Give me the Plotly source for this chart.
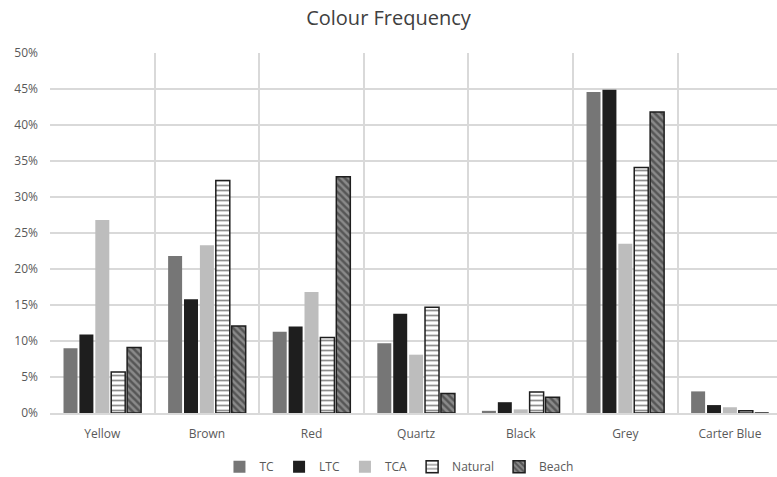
import plotly.graph_objects as go

categories = ["Yellow", "Brown", "Red", "Quartz", "Black", "Grey", "Carter Blue"]
tc = [9.0, 21.8, 11.3, 9.7, 0.3, 44.6, 3.0]
ltc = [10.9, 15.8, 12.0, 13.8, 1.5, 44.9, 1.1]
tca = [26.8, 23.3, 16.8, 8.1, 0.5, 23.5, 0.8]
natural = [5.7, 32.3, 10.5, 14.7, 2.9, 34.1, 0.3]
beach = [9.1, 12.1, 32.8, 2.7, 2.2, 41.8, 0.0]
yticks = [0, 5, 10, 15, 20, 25, 30, 35, 40, 45, 50]
ytick_labels = [f"{v}%" for v in yticks]

font = "Open Sans"
fig = go.Figure()
fig.add_bar(name="TC", x=categories, y=tc, marker=dict(color="#767676", line=dict(width=0)))
fig.add_bar(name="LTC", x=categories, y=ltc, marker=dict(color="#1e1e1e", line=dict(width=0)))
fig.add_bar(name="TCA", x=categories, y=tca, marker=dict(color="#bdbdbd", line=dict(width=0)))
fig.add_bar(name="Natural", x=categories, y=natural,
            marker=dict(color="white", line=dict(color="#1e1e1e", width=1.5),
                        pattern=dict(shape="-", fgcolor="#1e1e1e", bgcolor="white", size=5, solidity=0.35)))
fig.add_bar(name="Beach", x=categories, y=beach,
            marker=dict(color="#4a4a4a", line=dict(color="#1e1e1e", width=1.5),
                        pattern=dict(shape="\\", fgcolor="#222222", bgcolor="#8a8a8a", size=5, solidity=0.5)))

fig.update_layout(
    width=777, height=477,
    margin=dict(l=50, r=0, t=52.5, b=63.5, autoexpand=False),
    paper_bgcolor="white", plot_bgcolor="white",
    title=dict(text="Colour Frequency", x=0.5, xanchor="center", y=0.962, yanchor="middle",
               font=dict(family=font, size=20, color="#404040")),
    barmode="group", bargap=0.24, bargroupgap=0.12,
    font=dict(family=font, size=12, color="#595959"),
    legend=dict(orientation="h", x=0.48, xanchor="center", y=-0.109, yanchor="top",
                font=dict(family=font, size=12, color="#595959"),
                itemwidth=30, tracegroupgap=0, traceorder="normal"),
    xaxis=dict(type="category", range=[-0.5, 6.45], tickson="boundaries", showgrid=True,
               gridcolor="#d9d9d9", gridwidth=1.5, automargin=False, ticklabelstandoff=9,
               ticks="", showline=True, linecolor="#d9d9d9", linewidth=1.5,
               tickfont=dict(family=font, size=12, color="#595959")),
    yaxis=dict(range=[0, 50], tickvals=yticks, ticktext=ytick_labels, showgrid=True, automargin=False,
               gridcolor="#d9d9d9", gridwidth=1.5, zeroline=False, ticks="", ticklabelstandoff=11,
               tickfont=dict(family=font, size=12, color="#595959")),
)

# remove the default 8px page margin so the 777x477 figure fills the window exactly
fig.write_html("out.html", config={"displayModeBar": False},
               post_script="document.body.style.margin='0';")
